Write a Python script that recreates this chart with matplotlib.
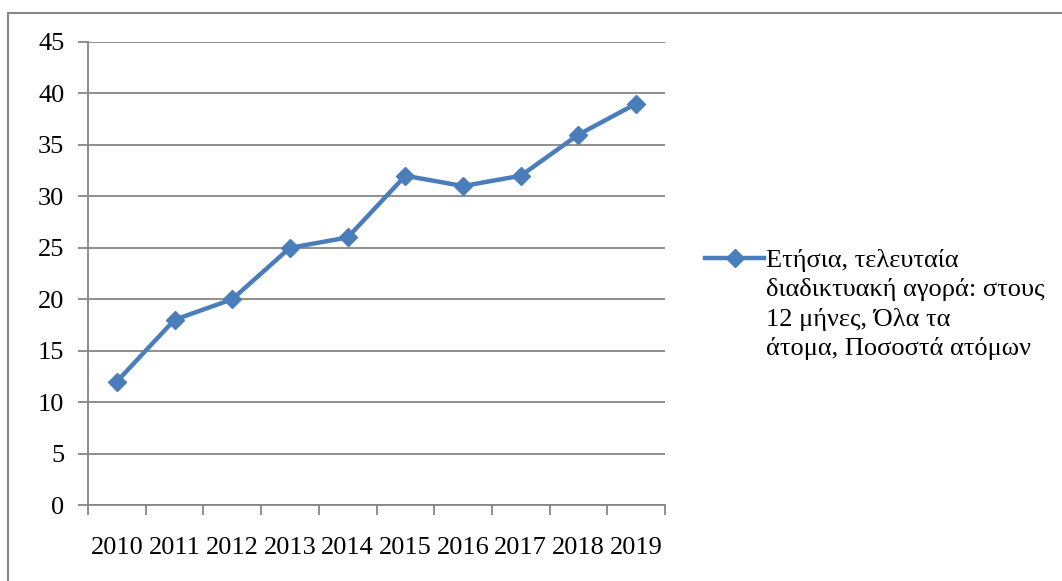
import matplotlib.pyplot as plt
import matplotlib.patches as patches

years = ["2010", "2011", "2012", "2013", "2014", "2015", "2016", "2017", "2018", "2019"]
values = [12, 18, 20, 25, 26, 32, 31, 32, 36, 39]
label = ("Ετήσια, τελευταία\n"
         "διαδικτυακή αγορά: στους\n"
         "12 μήνες, Όλα τα\n"
         "άτομα, Ποσοστά ατόμων")

plt.rcParams["font.family"] = ["Liberation Serif", "DejaVu Serif"]
grey = "#868686"
fs = 19

fig = plt.figure(figsize=(10.62, 5.81), dpi=100)
ax = fig.add_axes([88 / 1062, 1 - 505 / 581, (665 - 88) / 1062, (505 - 42) / 581])

x = range(len(years))
ax.plot(x, values, color="#4A7EBB", lw=3.2, marker="D", ms=9.5, label=label)

ax.set_xlim(-0.5, len(years) - 0.5)
ax.set_ylim(0, 45)
ax.set_yticks(range(0, 46, 5))
ax.set_xticks(list(x))
ax.set_xticklabels(years)
ax.set_xticks([i - 0.5 for i in range(len(years) + 1)], minor=True)
ax.tick_params(axis="x", which="major", length=0, pad=23, labelsize=fs)
ax.tick_params(axis="x", which="minor", length=7, width=1.3, color=grey)
ax.tick_params(axis="y", length=7, width=1.3, color=grey, pad=10, labelsize=fs)
ax.grid(axis="y", color=grey, lw=1.3)
ax.set_axisbelow(True)
for s in ["top", "right"]:
    ax.spines[s].set_visible(False)
for s in ["left", "bottom"]:
    ax.spines[s].set_color(grey)
    ax.spines[s].set_linewidth(1.3)

leg = ax.legend(loc="upper left", bbox_to_anchor=(1.069, 0.553), frameon=False,
                fontsize=fs, handlelength=2.25, handletextpad=0.05,
                borderaxespad=0, borderpad=0, labelspacing=0)
leg.get_texts()[0].set_linespacing(1.36)
# keep the marker beside the first line of the wrapped label
for column in leg._legend_handle_box.get_children():
    for row in column.get_children():
        row.align = "top"

# outer chart border (top and left edges visible)
fig.patches.append(patches.Rectangle((8 / 1062, -0.05), 1.1, 1 - 13 / 581 + 0.05,
                                     transform=fig.transFigure, fill=False,
                                     edgecolor=grey, lw=1.5))

fig.savefig("out.png", dpi=100)
